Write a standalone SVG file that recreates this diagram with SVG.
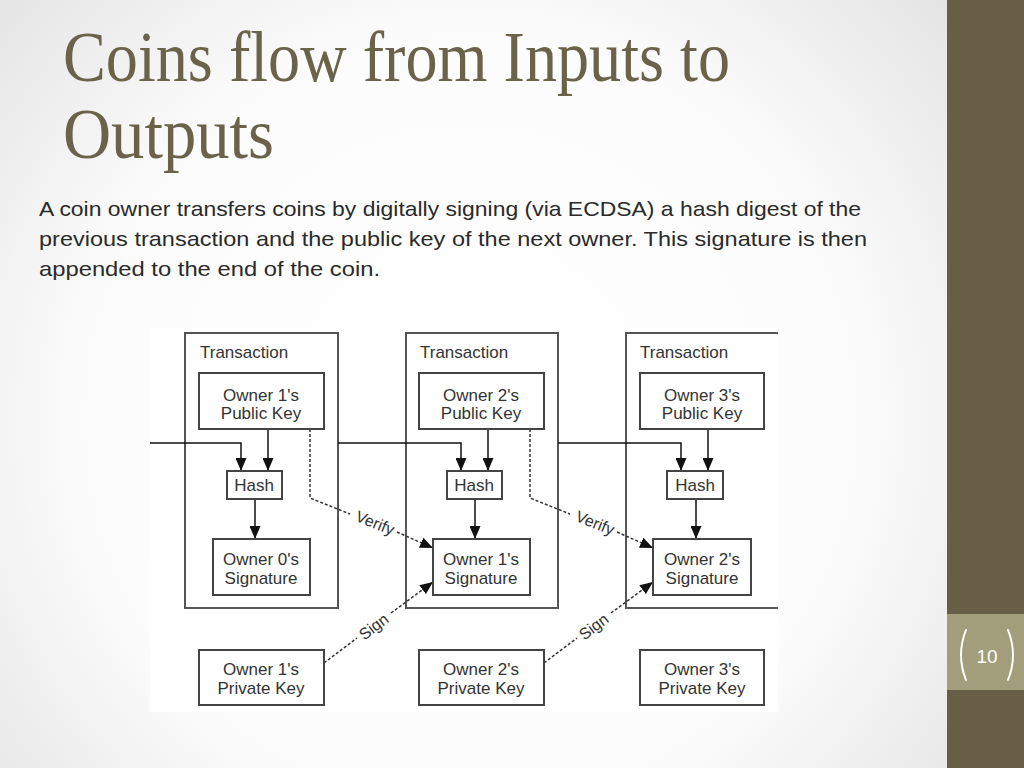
<svg xmlns="http://www.w3.org/2000/svg" width="1024" height="768" viewBox="0 0 1024 768">
<defs>
<radialGradient id="bg" cx="470" cy="420" r="700" gradientUnits="userSpaceOnUse">
<stop offset="0" stop-color="#ffffff"/>
<stop offset="0.55" stop-color="#fcfcfc"/>
<stop offset="1" stop-color="#dedede"/>
</radialGradient>
<marker id="ah" markerUnits="userSpaceOnUse" markerWidth="14" markerHeight="11" refX="13" refY="5.5" orient="auto">
<path d="M0,0 L13,5.5 L0,11 z" fill="#111"/>
</marker>
<style>
.tx{fill:none;stroke:#555;stroke-width:2}
.bx{fill:#fff;stroke:#444;stroke-width:2}
.lbl{font-family:"Liberation Sans",Arial,sans-serif;font-size:17px;fill:#333}
.ctr{text-anchor:middle}
.arr{fill:none;stroke:#111;stroke-width:1.5;marker-end:url(#ah)}
.dot{fill:none;stroke:#333;stroke-width:1.5;stroke-dasharray:3 2}
.dota{fill:none;stroke:#333;stroke-width:1.5;stroke-dasharray:3 2;marker-end:url(#ah)}
.small{font-family:"Liberation Sans",Arial,sans-serif;font-size:16px;fill:#333;text-anchor:middle}
</style>
</defs>
<rect x="0" y="0" width="1024" height="768" fill="url(#bg)"/>
<rect x="947" y="0" width="77" height="768" fill="#685d45"/>
<rect x="947" y="614" width="77" height="76" fill="#a29d7b"/>
<g id="page-number">
<path d="M966,630 Q956,655 966,680" fill="none" stroke="#fff" stroke-width="2" stroke-linecap="round"/>
<path d="M1008,630 Q1018,655 1008,680" fill="none" stroke="#fff" stroke-width="2" stroke-linecap="round"/>
<text x="987" y="663" font-family="Liberation Sans, Arial, sans-serif" font-size="19" fill="#fff" text-anchor="middle">10</text>
</g>
<g id="title">
<text x="63" y="81" font-family="Liberation Serif, serif" font-size="72" fill="#6b6349" textLength="667" lengthAdjust="spacingAndGlyphs">Coins flow from Inputs to</text>
<text x="63" y="158" font-family="Liberation Serif, serif" font-size="72" fill="#6b6349" textLength="211" lengthAdjust="spacingAndGlyphs">Outputs</text>
</g>
<g id="body" font-family="Liberation Sans, Arial, sans-serif" font-size="21" fill="#2a2a2a">
<text x="39" y="216" textLength="822" lengthAdjust="spacingAndGlyphs">A coin owner transfers coins by digitally signing (via ECDSA) a hash digest of the</text>
<text x="39" y="246" textLength="828" lengthAdjust="spacingAndGlyphs">previous transaction and the public key of the next owner. This signature is then</text>
<text x="39" y="276" textLength="341" lengthAdjust="spacingAndGlyphs">appended to the end of the coin.</text>
</g>
<rect x="150" y="328" width="628" height="384" fill="#fff"/>
<g id="tx1"><rect class="tx" x="185" y="333" width="153" height="275"/><text class="lbl" x="200" y="358">Transaction</text></g>
<g id="tx2"><rect class="tx" x="406" y="333" width="152" height="275"/><text class="lbl" x="420" y="358">Transaction</text></g>
<g id="tx3"><path class="tx" d="M778,333 H626 V608 H778"/><text class="lbl" x="640" y="358">Transaction</text></g>

<g id="connectors">
<path class="arr" d="M150,443 H241 V471"/>
<path class="arr" d="M338,443 H461 V471"/>
<path class="arr" d="M558,443 H681 V471"/>
<path class="arr" d="M268,429 V471"/>
<path class="arr" d="M488,429 V471"/>
<path class="arr" d="M708,429 V471"/>
<path class="arr" d="M255,499 V539"/>
<path class="arr" d="M475,499 V539"/>
<path class="arr" d="M696,499 V539"/>
<path class="dot" d="M310,429 V498 L350,514"/>
<path class="dota" d="M397,532 L433,548"/>
<path class="dot" d="M530,429 V498 L570,514"/>
<path class="dota" d="M617,532 L653,548"/>
<path class="dot" d="M324,663 L357,638"/>
<path class="dota" d="M391,613 L433,582"/>
<path class="dot" d="M544,663 L577,638"/>
<path class="dota" d="M611,613 L653,582"/>
<text class="small" transform="translate(373,528) rotate(22)">Verify</text>
<text class="small" transform="translate(593,528) rotate(22)">Verify</text>
<text class="small" transform="translate(377,631) rotate(-37)">Sign</text>
<text class="small" transform="translate(597,631) rotate(-37)">Sign</text>
</g>

<g id="pub1"><rect class="bx" x="199" y="373" width="125" height="56"/><text class="lbl ctr" x="261" y="401">Owner 1's</text><text class="lbl ctr" x="261" y="419">Public Key</text></g>
<g id="pub2"><rect class="bx" x="419" y="373" width="125" height="56"/><text class="lbl ctr" x="481" y="401">Owner 2's</text><text class="lbl ctr" x="481" y="419">Public Key</text></g>
<g id="pub3"><rect class="bx" x="640" y="373" width="124" height="56"/><text class="lbl ctr" x="702" y="401">Owner 3's</text><text class="lbl ctr" x="702" y="419">Public Key</text></g>

<g id="hash1"><rect class="bx" x="227" y="471" width="55" height="28"/><text class="lbl ctr" x="254" y="491">Hash</text></g>
<g id="hash2"><rect class="bx" x="447" y="471" width="55" height="28"/><text class="lbl ctr" x="474" y="491">Hash</text></g>
<g id="hash3"><rect class="bx" x="667" y="471" width="56" height="28"/><text class="lbl ctr" x="695" y="491">Hash</text></g>

<g id="sig1"><rect class="bx" x="213" y="539" width="97" height="56"/><text class="lbl ctr" x="261" y="565">Owner 0's</text><text class="lbl ctr" x="261" y="584">Signature</text></g>
<g id="sig2"><rect class="bx" x="433" y="539" width="97" height="56"/><text class="lbl ctr" x="481" y="565">Owner 1's</text><text class="lbl ctr" x="481" y="584">Signature</text></g>
<g id="sig3"><rect class="bx" x="653" y="539" width="98" height="56"/><text class="lbl ctr" x="702" y="565">Owner 2's</text><text class="lbl ctr" x="702" y="584">Signature</text></g>

<g id="priv1"><rect class="bx" x="199" y="650" width="125" height="55"/><text class="lbl ctr" x="261" y="675">Owner 1's</text><text class="lbl ctr" x="261" y="694">Private Key</text></g>
<g id="priv2"><rect class="bx" x="419" y="650" width="125" height="55"/><text class="lbl ctr" x="481" y="675">Owner 2's</text><text class="lbl ctr" x="481" y="694">Private Key</text></g>
<g id="priv3"><rect class="bx" x="640" y="650" width="124" height="55"/><text class="lbl ctr" x="702" y="675">Owner 3's</text><text class="lbl ctr" x="702" y="694">Private Key</text></g>
</svg>
